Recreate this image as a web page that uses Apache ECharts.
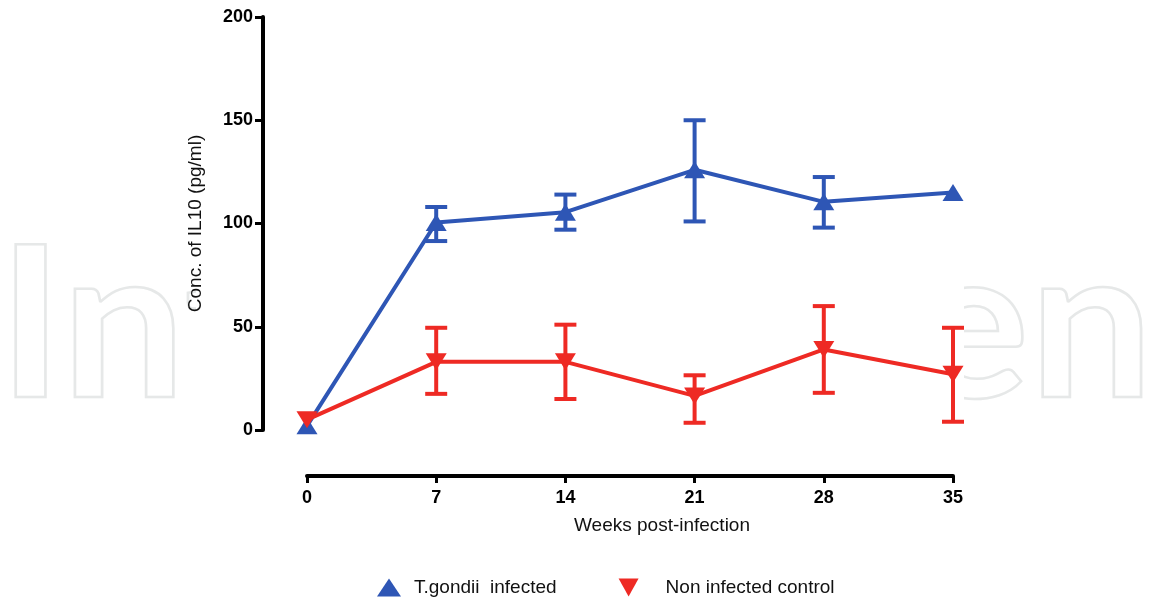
<!DOCTYPE html>
<html><head><meta charset="utf-8">
<script src="https://cdn.jsdelivr.net/npm/echarts@6/dist/echarts.min.js"></script>
<style>html,body{margin:0;padding:0;background:#fff}#c{width:1151px;height:605px}</style>
</head><body><div id="c"></div>
<script>
var weeks = [0, 7, 14, 21, 28, 35];
var xTicks = [0, 7, 14, 21, 28, 35];
var yTicks = [0, 50, 100, 150, 200];
var infectedMean = [2, 100.5, 105.5, 126, 110.5, 115];
var infectedLow  = [null, 91.5, 97, 101, 98, null];
var infectedHigh = [null, 108, 114, 150, 122.5, null];
var controlMean = [5, 33, 33, 16.5, 39, 27];
var controlLow  = [null, 17.5, 15, 3.5, 18, 4];
var controlHigh = [null, 49.5, 51, 26.5, 60, 49.5];
var seriesNames = ['T.gondii  infected', 'Non infected control'];

var BLUE = '#2e56b5', RED = '#ee2a24';
var FONT = 'Liberation Sans, Arial, sans-serif';

function pairs(xs, ys) { return xs.map(function (x, i) { return [x, ys[i]]; }); }
function errData(xs, lo, hi) {
  var out = [];
  xs.forEach(function (x, i) { if (lo[i] != null) out.push([x, lo[i], hi[i]]); });
  return out;
}
function errSeries(data, color) {
  return {
    type: 'custom', z: 3, silent: true,
    renderItem: function (params, api) {
      var x = api.value(0);
      var p1 = api.coord([x, api.value(1)]);
      var p2 = api.coord([x, api.value(2)]);
      var hw = 11;
      var st = { stroke: color, lineWidth: 4 };
      return { type: 'group', children: [
        { type: 'line', shape: { x1: p1[0], y1: p1[1], x2: p2[0], y2: p2[1] }, style: st },
        { type: 'line', shape: { x1: p1[0] - hw, y1: p1[1], x2: p1[0] + hw, y2: p1[1] }, style: st },
        { type: 'line', shape: { x1: p2[0] - hw, y1: p2[1], x2: p2[0] + hw, y2: p2[1] }, style: st }
      ]};
    },
    encode: { x: 0, y: [1, 2] },
    data: data
  };
}

var chart = echarts.init(document.getElementById('c'));
chart.setOption({
  animation: false,
  backgroundColor: '#fff',
  graphic: [
    { type: 'text', z: -20, x: -2, y: 224, scaleX: 1.048,
      style: { text: 'IntechOpen', font: 'bold 210px Lato', fill: 'rgba(0,0,0,0)', stroke: '#e6e8e8', lineWidth: 2.5,
        textBaseline: 'top', textAlign: 'left' } },
    { type: 'rect', z: -10, shape: { x: 196, y: 0, width: 768, height: 560 }, style: { fill: '#fff' } }
  ],
  grid: { left: 307, right: 198, top: 17, bottom: 175 },
  legend: {
    bottom: 3, left: 372, itemGap: 62, itemWidth: 24, itemHeight: 18,
    textStyle: { fontFamily: FONT, fontSize: 19, color: '#111', padding: [0, 0, 0, 8] },
    data: [
      { name: seriesNames[0], icon: 'triangle' },
      { name: seriesNames[1], icon: 'path://M0,0 L10,0 L5,9 Z',
        textStyle: { fontFamily: FONT, fontSize: 19, color: '#111', padding: [0, 0, 0, 20] } }
    ]
  },
  xAxis: {
    type: 'value', min: 0, max: 35, interval: 7, offset: 46,
    name: 'Weeks post-infection', nameLocation: 'middle', nameGap: 40,
    nameTextStyle: { fontFamily: FONT, fontSize: 19, color: '#111', padding: [0, 0, 0, 64] },
    axisLine: { onZero: false, lineStyle: { color: '#000', width: 4 } },
    axisTick: { length: 7, lineStyle: { color: '#000', width: 3 } },
    axisLabel: { fontFamily: FONT, fontSize: 18, fontWeight: 'bold', color: '#000', margin: 13,
      customValues: xTicks },
    splitLine: { show: false }
  },
  yAxis: {
    type: 'value', min: 0, max: 200, interval: 50, offset: 44,
    name: 'Conc. of IL10 (pg/ml)', nameLocation: 'middle', nameGap: 58,
    nameTextStyle: { fontFamily: FONT, fontSize: 19, color: '#111' },
    axisLine: { show: true, onZero: false, lineStyle: { color: '#000', width: 4 } },
    axisTick: { show: true, length: 8, lineStyle: { color: '#000', width: 3 } },
    axisLabel: { fontFamily: FONT, fontSize: 18, fontWeight: 'bold', color: '#000', margin: 10 },
    splitLine: { show: false }
  },
  series: [
    errSeries(errData(weeks, infectedLow, infectedHigh), BLUE),
    errSeries(errData(weeks, controlLow, controlHigh), RED),
    { name: seriesNames[0], type: 'line', z: 4, data: pairs(weeks, infectedMean),
      symbol: 'triangle', symbolSize: [21, 17], color: BLUE,
      lineStyle: { width: 4, color: BLUE }, itemStyle: { color: BLUE } },
    { name: seriesNames[1], type: 'line', z: 5, data: pairs(weeks, controlMean),
      symbol: 'path://M0,0 L10,0 L5,9 Z', symbolSize: [21, 17], color: RED,
      lineStyle: { width: 4, color: RED }, itemStyle: { color: RED } }
  ]
});
</script></body></html>
